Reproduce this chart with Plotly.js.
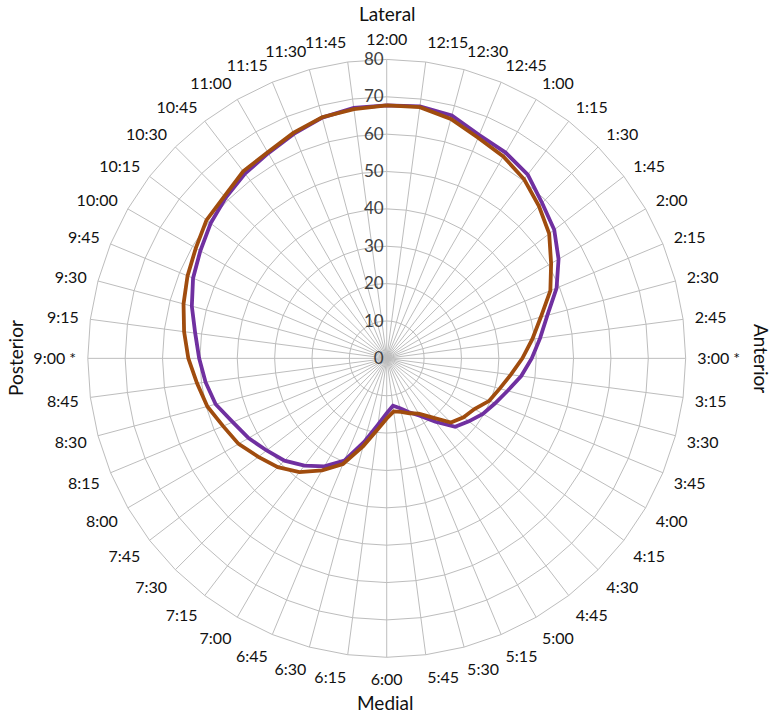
<!DOCTYPE html>
<html>
<head>
<meta charset="utf-8">
<script src="https://cdn.plot.ly/plotly-3.0.1.min.js"></script>
<style>
  html, body { margin: 0; padding: 0; background: #fff; }
  #chart { width: 774px; height: 716px; }
</style>
</head>
<body>
<div id="chart"></div>
<script>
const clockLabels = [
  "12:00", "12:15", "12:30", "12:45", "1:00", "1:15", "1:30", "1:45",
  "2:00", "2:15", "2:30", "2:45", "3:00 *", "3:15", "3:30", "3:45",
  "4:00", "4:15", "4:30", "4:45", "5:00", "5:15", "5:30", "5:45",
  "6:00", "6:15", "6:30", "6:45", "7:00", "7:15", "7:30", "7:45",
  "8:00", "8:15", "8:30", "8:45", "9:00 *", "9:15", "9:30", "9:45",
  "10:00", "10:15", "10:30", "10:45", "11:00", "11:15", "11:30", "11:45",
];

const purpleValues = [
  67.7, 68.0, 67.3, 64.7, 63.6, 62.0, 58.8, 56.5,
  53.1, 49.2, 44.5, 41.4, 38.8, 36.3, 33.5, 31.4,
  29.7, 27.7, 25.9, 21.4, 17.7, 15.6, 13.8, 12.8,
  14.7, 17.9, 23.1, 29.6, 33.4, 36.2, 38.7, 40.5,
  42.7, 44.6, 47.4, 48.9, 50.2, 51.7, 54.0, 56.1,
  57.6, 59.4, 60.9, 62.3, 63.4, 65.0, 66.7, 67.6,
];

const brownValues = [
  67.7, 67.8, 66.3, 63.9, 62.4, 60.4, 57.6, 54.8,
  50.8, 47.4, 42.7, 39.3, 36.3, 33.5, 31.3, 29.7,
  27.1, 25.9, 24.3, 19.9, 17.1, 15.9, 14.8, 14.3,
  16.1, 19.3, 24.3, 30.6, 34.6, 38.4, 41.2, 43.3,
  45.8, 47.4, 49.7, 51.2, 53.1, 54.7, 56.3, 57.7,
  59.0, 60.8, 61.4, 63.1, 63.7, 65.3, 66.8, 67.3,
];

const radialTicks = [0, 10, 20, 30, 40, 50, 60, 70, 80];

// close the loop so the radar line joins back at 12:00
function closed(arr) {
  return arr.concat([arr[0]]);
}

const traces = [
  {
    type: "scatterpolar",
    mode: "lines",
    r: closed(purpleValues),
    theta: closed(clockLabels),
    line: { color: "#7030a0", width: 3.8 },
    hoverinfo: "skip",
  },
  {
    type: "scatterpolar",
    mode: "lines",
    r: closed(brownValues),
    theta: closed(clockLabels),
    line: { color: "#a04c0e", width: 3.8 },
    hoverinfo: "skip",
  },
];

const gridColor = "#bdbdbd";
const fontFamily = "Lato, 'Open Sans', sans-serif";

const sideTitles = [
  { text: "Lateral", x: 387, y: 13, angle: 0 },
  { text: "Medial", x: 385, y: 702, angle: 0 },
  { text: "Posterior", x: 15, y: 358, angle: -90 },
  { text: "Anterior", x: 762, y: 358, angle: 90 },
];

const layout = {
  width: 774,
  height: 716,
  margin: { t: 0, l: 0, r: 0, b: 0 },
  paper_bgcolor: "#ffffff",
  showlegend: false,
  font: { family: fontFamily, size: 16, color: "#111111" },
  polar: {
    domain: { x: [0.1133, 0.886], y: [0.082, 0.917] },
    gridshape: "linear",
    bgcolor: "#ffffff",
    angularaxis: {
      type: "category",
      categoryorder: "array",
      categoryarray: clockLabels,
      rotation: 90,
      direction: "clockwise",
      showline: true,
      linecolor: gridColor,
      linewidth: 1,
      gridcolor: gridColor,
      gridwidth: 1,
      ticks: "outside",
      ticklen: 8,
      tickcolor: "rgba(0,0,0,0)",
      tickfont: { family: fontFamily, size: 16, color: "#111111" },
    },
    radialaxis: {
      range: [0, 80],
      tickvals: radialTicks,
      angle: 90,
      side: "counterclockwise",
      tickangle: 90,
      showline: false,
      gridcolor: gridColor,
      gridwidth: 1,
      ticks: "",
      tickfont: { family: fontFamily, size: 17, color: "#404040" },
    },
  },
  annotations: sideTitles.map((t) => ({
    text: t.text,
    showarrow: false,
    textangle: t.angle,
    xref: "paper",
    yref: "paper",
    x: t.x / 774,
    y: 1 - t.y / 716,
    xanchor: "center",
    yanchor: "middle",
    font: { family: fontFamily, size: 19, color: "#111111" },
  })),
};

Plotly.newPlot("chart", traces, layout, { staticPlot: true });
</script>
</body>
</html>
